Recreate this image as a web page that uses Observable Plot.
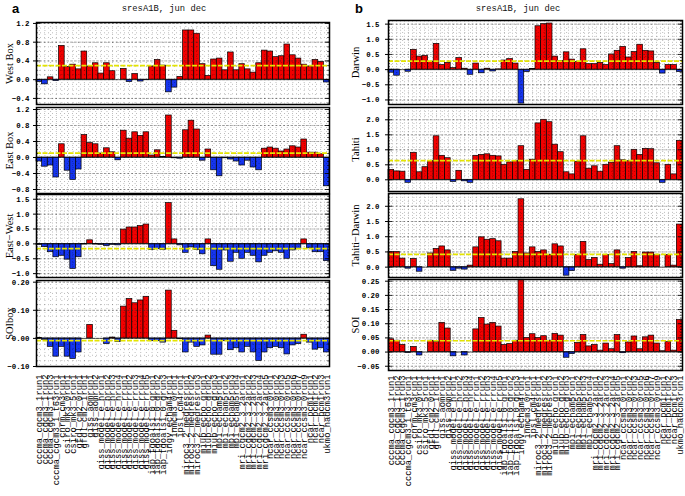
<!DOCTYPE html>
<html><head><meta charset="utf-8">
<script src="https://cdn.jsdelivr.net/npm/d3@7"></script>
<script src="https://cdn.jsdelivr.net/npm/@observablehq/plot@0.6"></script>
<style>
html,body{margin:0;padding:0;background:#fff;overflow:hidden;}
#chart{position:relative;width:685px;height:496px;overflow:hidden;background:#fff;}
#chart svg{position:absolute;overflow:visible;background:none;}
.t{position:absolute;white-space:nowrap;line-height:1;}
</style></head><body><div id="chart"></div>
<script>
const models = [
"cccma_cgcm3_1run1","cccma_cgcm3_1run2","cccma_cgcm3_1run3","cccma_cgcm3_1_t63run1","cnrm_cm3run1",
"csiro_mk3_0run1","csiro_mk3_5run1","gfdl_cm2_0run1","gfdl_cm2_1run1","giss_aomrun1",
"giss_aomrun2","giss_model_e_hrun1","giss_model_e_hrun2","giss_model_e_hrun3","giss_model_e_hrun4",
"giss_model_e_rrun1","giss_model_e_rrun2","giss_model_e_rrun3","giss_model_e_rrun4","giss_model_e_rrun5",
"iap_fgoals1_0_grun1","iap_fgoals1_0_grun2","iap_fgoals1_0_grun3","ingv_echam4run1","inmcm3_0run1",
"ipsl_cm4run1","miroc3_2_medresrun1","miroc3_2_medresrun2","miroc3_2_medresrun3","miub_echo_grun1",
"miub_echo_grun2","miub_echo_grun3","mpi_echam5run1","mpi_echam5run2","mpi_echam5run3",
"mpi_echam5run4","mri_cgcm2_3_2arun1","mri_cgcm2_3_2arun2","mri_cgcm2_3_2arun3","mri_cgcm2_3_2arun4",
"mri_cgcm2_3_2arun5","ncar_ccsm3_0run1","ncar_ccsm3_0run2","ncar_ccsm3_0run3","ncar_ccsm3_0run5",
"ncar_ccsm3_0run6","ncar_ccsm3_0run7","ncar_ccsm3_0run9","ncar_pcm1run1","ncar_pcm1run2",
"ncar_pcm1run3","ukmo_hadcm3run1"];

const westBox = [-0.05,-0.1,0.05,-0.03,0.72,0.27,0.32,0.22,0.6,0.28, 0.35,0.13,0.35,0.18,0.0,0.23,-0.05,0.12,-0.04,-0.01, 0.28,0.42,0.3,-0.27,-0.17,0.06,1.05,1.05,0.98,0.33, 0.08,0.43,0.45,0.2,0.58,0.2,0.33,0.22,0.15,0.35, 0.62,0.6,0.48,0.5,0.75,0.52,0.45,0.32,0.28,0.42, 0.38,-0.06];
const eastBox = [-0.1,-0.23,-0.2,-0.5,0.33,-0.33,-0.56,-0.3,0.56,0.36, 0.33,0.1,0.23,0.13,-0.07,0.67,0.47,0.63,0.54,0.63, 0.05,0.18,0.01,1.05,-0.02,-0.03,0.68,0.92,0.7,-0.08, 0.2,-0.32,-0.47,-0.02,-0.05,-0.1,-0.2,-0.08,-0.25,-0.32, 0.22,0.25,0.22,0.15,0.2,0.28,0.25,0.45,0.12,0.12, 0.08,-0.72];
const eastWest = [-0.03,-0.11,-0.28,-0.45,-0.4,-0.53,-0.84,-0.45,-0.02,0.12, -0.02,-0.03,-0.07,-0.03,-0.05,0.48,0.55,0.55,0.6,0.65, -0.2,-0.18,-0.2,1.37,0.15,-0.05,-0.3,-0.12,-0.2,-0.35, 0.15,-0.75,-0.87,-0.22,-0.6,-0.3,-0.5,-0.3,-0.4,-0.62, -0.4,-0.3,-0.25,-0.3,-0.5,-0.22,-0.18,0.15,-0.15,-0.28, -0.28,-0.58];
const soiBox = [0.002,-0.005,-0.03,-0.065,-0.03,-0.065,-0.073,-0.05,0.0,0.048, 0.0,0.0,-0.02,0.003,-0.013,0.113,0.14,0.125,0.135,0.148, -0.01,-0.01,-0.015,0.17,0.027,-0.003,-0.05,-0.015,-0.03,-0.025, 0.01,-0.058,-0.058,-0.01,-0.042,-0.035,-0.05,-0.03,-0.05,-0.08, -0.05,-0.035,-0.03,-0.035,-0.057,-0.025,-0.02,0.013,-0.015,-0.04, -0.035,-0.05];
const darwin = [-0.1,-0.2,0.0,-0.07,0.65,0.43,0.45,0.25,0.85,0.15, 0.22,0.05,0.38,0.03,-0.17,0.2,-0.12,0.03,-0.06,0.01, 0.3,0.35,0.2,-1.12,-0.08,0.02,1.43,1.5,1.52,0.43, 0.28,0.57,0.33,0.25,0.67,0.18,0.18,0.22,0.15,0.5, 0.62,0.75,0.4,0.58,0.82,0.62,0.6,0.22,-0.13,0.15, 0.15,-0.08];
const tahiti = [0.33,0.28,0.27,-0.1,0.9,0.25,0.42,0.62,1.45,0.8, 0.72,-0.07,0.3,-0.05,-0.1,0.8,0.83,0.85,0.8,0.78, 0.5,0.58,0.62,1.12,0.33,0.67,1.88,2.0,1.92,1.17, 0.92,0.25,0.18,0.6,1.45,0.37,0.45,0.27,0.5,0.57, 1.12,0.65,0.62,1.0,0.83,1.03,1.02,0.55,-0.1,0.5, 0.18,1.3];
const tahitiDarwin = [0.5,0.5,0.28,-0.05,0.27,-0.15,0.0,0.45,0.6,0.68, 0.55,-0.12,-0.05,-0.08,0.05,0.65,0.98,0.9,0.92,0.85, 0.28,0.28,0.5,2.23,0.45,0.65,0.5,0.55,0.4,0.75, 0.68,-0.28,-0.13,0.4,0.83,0.23,0.3,0.08,0.4,0.1, 0.55,-0.05,0.3,0.5,0.03,0.48,0.48,0.4,0.0,0.4, 0.05,1.4];
const soi = [0.045,0.04,0.025,-0.003,0.018,-0.012,0.0,0.04,0.035,0.103, 0.083,-0.015,0.0,-0.012,0.0,0.08,0.12,0.097,0.103,0.09, 0.025,0.028,0.04,0.255,0.05,0.063,0.05,0.056,0.04,0.064, 0.058,-0.02,-0.007,0.032,0.06,0.02,0.025,0.005,0.03,0.01, 0.06,-0.004,0.034,0.055,0.01,0.052,0.058,0.03,0.003,0.035, 0.005,0.113];

const panelNames = ["West Box","East Box","East\u2212West","SOIbox","Darwin","Tahiti","Tahiti\u2212Darwin","SOI"];
const meanLines = [0.30, 0.11, -0.157, -0.008, 0.28, 0.64, 0.42, 0.04];
const majorTicks = [
  [-0.4,0,0.4,0.8,1.2],
  [-0.8,-0.4,0,0.4,0.8,1.2],
  [-1.0,-0.5,0,0.5,1.0,1.5],
  [-0.1,0,0.1,0.2],
  [-1.0,-0.5,0,0.5,1.0,1.5],
  [0,0.5,1.0,1.5,2.0],
  [0,0.5,1.0,1.5,2.0],
  [-0.05,0,0.05,0.1,0.15,0.2,0.25]
];
const titleText = "sresA1B, jun dec";
const panelLetters = ["a","b"];

// layout (positions and styles)
const seriesList = [westBox, eastBox, eastWest, soiBox, darwin, tahiti, tahitiDarwin, soi];
const layout = [
  {col:0, top:22, bottom:104, domain:[-0.53,1.22], minor:0.1, fmt:".1f"},
  {col:0, top:107, bottom:193, domain:[-0.9,1.25], minor:0.1, fmt:".1f"},
  {col:0, top:194, bottom:277, domain:[-1.13,1.66], minor:0.1, fmt:".1f"},
  {col:0, top:280, bottom:366, domain:[-0.1,0.206], minor:0.02, fmt:".2f", last:true},
  {col:1, top:20, bottom:104, domain:[-1.15,1.62], minor:0.1, fmt:".1f"},
  {col:1, top:107, bottom:191, domain:[-0.39,2.41], minor:0.1, fmt:".1f"},
  {col:1, top:193, bottom:277, domain:[-0.34,2.42], minor:0.1, fmt:".1f"},
  {col:1, top:279, bottom:370, domain:[-0.065,0.256], minor:0.01, fmt:".2f", last:true}
];
const cols = [
  {left:0, frameLeft:36, frameRight:329, titleX:9, tickPad:4, xPad:8, titleCx:164, letterX:12},
  {left:345, frameLeft:388, frameRight:682, titleX:355, tickPad:6, xPad:5, titleCx:518, letterX:355}
];

function rangeTicks(lo, hi, step) {
  const out = [];
  for (let k = Math.ceil(lo / step - 1e-9); k * step <= hi + 1e-9; k++) out.push(+(k * step).toFixed(6));
  return out;
}

const chart = document.getElementById("chart");
const RED = "#f20000", BLUE = "#1535f0";

seriesList.forEach((values, p) => {
  const L = layout[p], C = cols[L.col];
  const rows = models.map((m, i) => ({model: m, value: values[i]}));
  const mt = 2, mb = L.last ? 128 : 2;
  const frameW = C.frameRight - C.frameLeft;
  const frameH = L.bottom - L.top;
  const marginLeft = C.frameLeft - C.left;
  const minor = rangeTicks(L.domain[0], L.domain[1], L.minor);
  const major = majorTicks[p];
  const fmt = d3.format(L.fmt);
  const marks = [
    Plot.barY(rows, {x: "model", y: "value", fill: d => d.value >= 0 ? RED : BLUE, stroke: "black", strokeWidth: 0.7}),
    Plot.gridY(minor, {stroke: "#000", strokeOpacity: 0.55, strokeWidth: 0.7, strokeDasharray: "0.7,3.3"}),
    Plot.gridY(major, {stroke: "#333", strokeOpacity: 0.8, strokeWidth: 0.6, strokeDasharray: "2,1.8"}),
    Plot.gridX(models, {stroke: "#000", strokeOpacity: 0.55, strokeWidth: 0.7, strokeDasharray: "0.7,3.3"}),
    Plot.ruleY([0], {stroke: "black", strokeWidth: 0.6}),
    Plot.ruleY([meanLines[p]], {stroke: "#e4e400", strokeWidth: 1.7, strokeDasharray: "5,1.5"}),
    Plot.tickY(major, {y: d => d, insetRight: frameW - 4, stroke: "black", strokeWidth: 0.8}),
    Plot.tickY(minor, {y: d => d, insetRight: frameW - 2, stroke: "black", strokeWidth: 0.6}),
    Plot.tickY(major, {y: d => d, insetLeft: frameW - 4, stroke: "black", strokeWidth: 0.8}),
    Plot.tickY(minor, {y: d => d, insetLeft: frameW - 2, stroke: "black", strokeWidth: 0.6}),
    Plot.frame({stroke: "black", strokeWidth: 1.5}),
    Plot.axisY({ticks: major, tickFormat: fmt, tickSize: 3, tickPadding: C.tickPad, fontFamily: "Liberation Mono", fontSize: 7.4, fontWeight: "bold", label: null}),
    Plot.text([panelNames[p]], {frameAnchor: "left", dx: C.titleX - C.frameLeft, rotate: -90, textAnchor: "middle", fontFamily: "Liberation Serif", fontSize: 10.5, fill: "black"})
  ];
  if (L.last) {
    marks.push(Plot.axisX({tickRotate: -90, tickSize: 0, tickPadding: C.xPad, fontFamily: "Liberation Mono", fontSize: 8.8, label: null}));
  }
  const svg = Plot.plot({
    width: marginLeft + frameW + 3,
    height: mt + frameH + mb,
    marginLeft, marginRight: 3, marginTop: mt, marginBottom: mb,
    x: {domain: models, padding: 0, axis: null},
    y: {domain: L.domain, axis: null},
    style: {background: "none", overflow: "visible", color: "black"},
    marks
  });
  svg.style.left = C.left + "px";
  svg.style.top = (L.top - mt) + "px";
  chart.appendChild(svg);
});

cols.forEach((C, c) => {
  const t = document.createElement("div");
  t.className = "t";
  t.textContent = titleText;
  t.style.cssText += `left:${C.titleCx}px;top:5px;transform:translateX(-50%);font-family:'Liberation Mono';font-size:8.8px;color:#111;`;
  chart.appendChild(t);
  const l = document.createElement("div");
  l.className = "t";
  l.textContent = panelLetters[c];
  l.style.cssText += `left:${C.letterX}px;top:2px;font-family:'Liberation Sans',Arial;font-weight:bold;font-size:13px;color:#000;`;
  chart.appendChild(l);
});
</script></body></html>
